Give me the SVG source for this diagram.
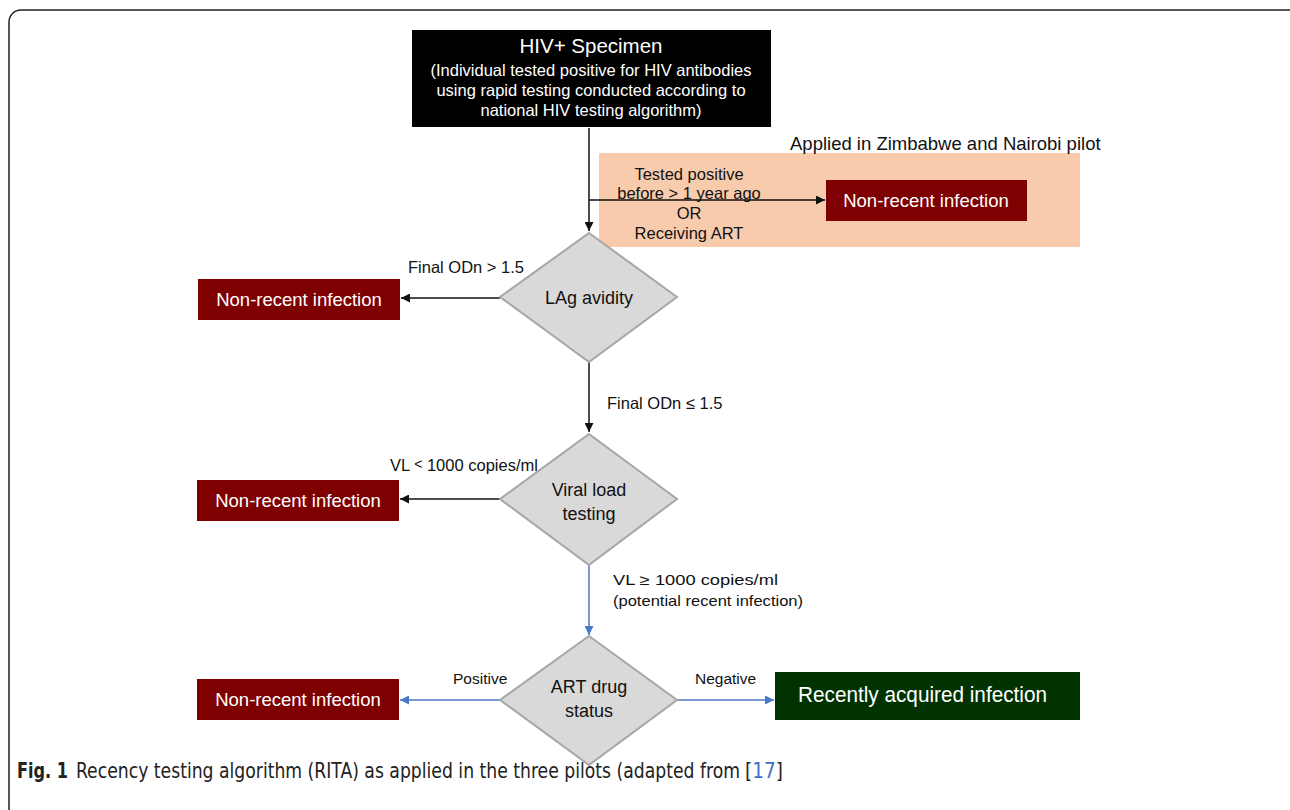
<svg xmlns="http://www.w3.org/2000/svg" width="1290" height="810" viewBox="0 0 1290 810">
<defs>
<style>
text{font-family:"Liberation Sans",Arial,sans-serif;}
.lbl{font-size:16.5px;fill:#111;}
.dia{fill:#D9D9D9;stroke:#A6A6A6;stroke-width:2;}
.red{fill:#7F0000;}
.wt{fill:#fff;font-size:18.5px;text-anchor:middle;}
.dt{fill:#111;font-size:18px;text-anchor:middle;}
.k{stroke:#111;stroke-width:1.5;fill:none;}
.b{stroke:#4A78C8;stroke-width:1.5;fill:none;}
.cap{font-family:"Liberation Sans Narrow","DejaVu Sans Condensed",sans-serif;font-size:20.5px;fill:#222;}
</style>
<marker id="ak" viewBox="0 0 10 10" refX="10" refY="5" markerWidth="9" markerHeight="9" markerUnits="userSpaceOnUse" orient="auto"><path d="M0,0 L10,5 L0,10 z" fill="#111"/></marker>
<marker id="ab" viewBox="0 0 10 10" refX="10" refY="5" markerWidth="9" markerHeight="9" markerUnits="userSpaceOnUse" orient="auto"><path d="M0,0 L10,5 L0,10 z" fill="#4A78C8"/></marker>
</defs>
<rect width="1290" height="810" fill="#fff"/>
<rect x="9" y="10" width="1300" height="820" rx="12" fill="none" stroke="#222" stroke-width="1.5"/>

<g id="pilot-region">
<rect x="599" y="153" width="481" height="94" fill="#F8CBAD"/>
<text x="790" y="150" font-size="18.5" fill="#111">Applied in Zimbabwe and Nairobi pilot</text>
</g>

<g id="connectors">
<line class="k" x1="589" y1="128" x2="589" y2="231" marker-end="url(#ak)"/>
<line class="k" x1="589" y1="200" x2="825" y2="200" marker-end="url(#ak)"/>
<line class="k" x1="500" y1="298" x2="401" y2="298" marker-end="url(#ak)"/>
<line class="k" x1="589" y1="362" x2="589" y2="432" marker-end="url(#ak)"/>
<line class="k" x1="500" y1="499" x2="400" y2="499" marker-end="url(#ak)"/>
<line class="b" x1="589" y1="565" x2="589" y2="635" marker-end="url(#ab)"/>
<line class="b" x1="500" y1="700" x2="400" y2="700" marker-end="url(#ab)"/>
<line class="b" x1="677" y1="700" x2="774" y2="700" marker-end="url(#ab)"/>
<text class="lbl" x="689" y="180" text-anchor="middle">Tested  positive</text>
<text class="lbl" x="689" y="199" text-anchor="middle">before &gt; 1 year ago</text>
<text class="lbl" x="689" y="219" text-anchor="middle">OR</text>
<text class="lbl" x="689" y="239" text-anchor="middle">Receiving  ART</text>
<text class="lbl" x="408" y="273">Final ODn &gt; 1.5</text>
<text class="lbl" x="607" y="409">Final ODn ≤ 1.5</text>
<text class="lbl" x="390" y="471">VL <tspan font-size="14" dy="-2">&lt;</tspan><tspan dy="2"> 1000 copies/ml</tspan></text>
<text x="613" y="585" font-size="14.5" fill="#111" textLength="165" lengthAdjust="spacingAndGlyphs">VL ≥ 1000 copies/ml</text>
<text x="613" y="606" font-size="14.5" fill="#111" textLength="190" lengthAdjust="spacingAndGlyphs">(potential recent infection)</text>
<text x="453" y="684" font-size="15.5" fill="#111">Positive</text>
<text x="695" y="684" font-size="15.5" fill="#111">Negative</text>
</g>

<g id="hiv-specimen">
<rect x="412" y="30" width="359" height="97" fill="#000"/>
<text x="591" y="53" fill="#fff" font-size="20.5" text-anchor="middle">HIV+ Specimen</text>
<text x="591" y="76" fill="#fff" font-size="16.5" text-anchor="middle">(Individual tested positive for HIV antibodies</text>
<text x="591" y="96" fill="#fff" font-size="16.5" text-anchor="middle">using rapid testing conducted according to</text>
<text x="591" y="116" fill="#fff" font-size="16.5" text-anchor="middle">national HIV testing algorithm)</text>
</g>

<g id="nonrecent-pilot">
<rect class="red" x="826" y="180" width="201" height="41"/>
<text class="wt" x="926" y="207">Non-recent infection</text>
</g>

<g id="lag-avidity">
<polygon class="dia" points="589,233 677,297 589,362 500,297"/>
<text class="dt" x="589" y="304">LAg avidity</text>
</g>

<g id="nonrecent-1">
<rect class="red" x="198" y="279" width="202" height="41"/>
<text class="wt" x="299" y="306">Non-recent infection</text>
</g>

<g id="viral-load">
<polygon class="dia" points="589,434 677,499 589,565 500,499"/>
<text class="dt" x="589" y="496">Viral load</text>
<text class="dt" x="589" y="520">testing</text>
</g>

<g id="nonrecent-2">
<rect class="red" x="197" y="480" width="202" height="41"/>
<text class="wt" x="298" y="507">Non-recent infection</text>
</g>

<g id="art-drug">
<polygon class="dia" points="589,636 677,700 589,765 500,700"/>
<text class="dt" x="589" y="693">ART drug</text>
<text class="dt" x="589" y="717">status</text>
</g>

<g id="nonrecent-3">
<rect class="red" x="197" y="679" width="202" height="41"/>
<text class="wt" x="298" y="706">Non-recent infection</text>
</g>

<g id="recent">
<rect x="775" y="672" width="305" height="48" fill="#003300"/>
<text x="798" y="702" fill="#fff" font-size="21.5" textLength="249" lengthAdjust="spacingAndGlyphs">Recently acquired infection</text>
</g>

<g id="caption">
<text class="cap" x="17" y="778" font-weight="bold" textLength="51" lengthAdjust="spacingAndGlyphs">Fig. 1</text>
<text class="cap" x="76" y="778" textLength="664" lengthAdjust="spacingAndGlyphs">Recency testing algorithm (RITA) as applied in the three pilots (adapted from</text>
<text class="cap" x="745" y="778" font-size="19">[<tspan fill="#3B6FC7">17</tspan>]</text>
</g>
</svg>
